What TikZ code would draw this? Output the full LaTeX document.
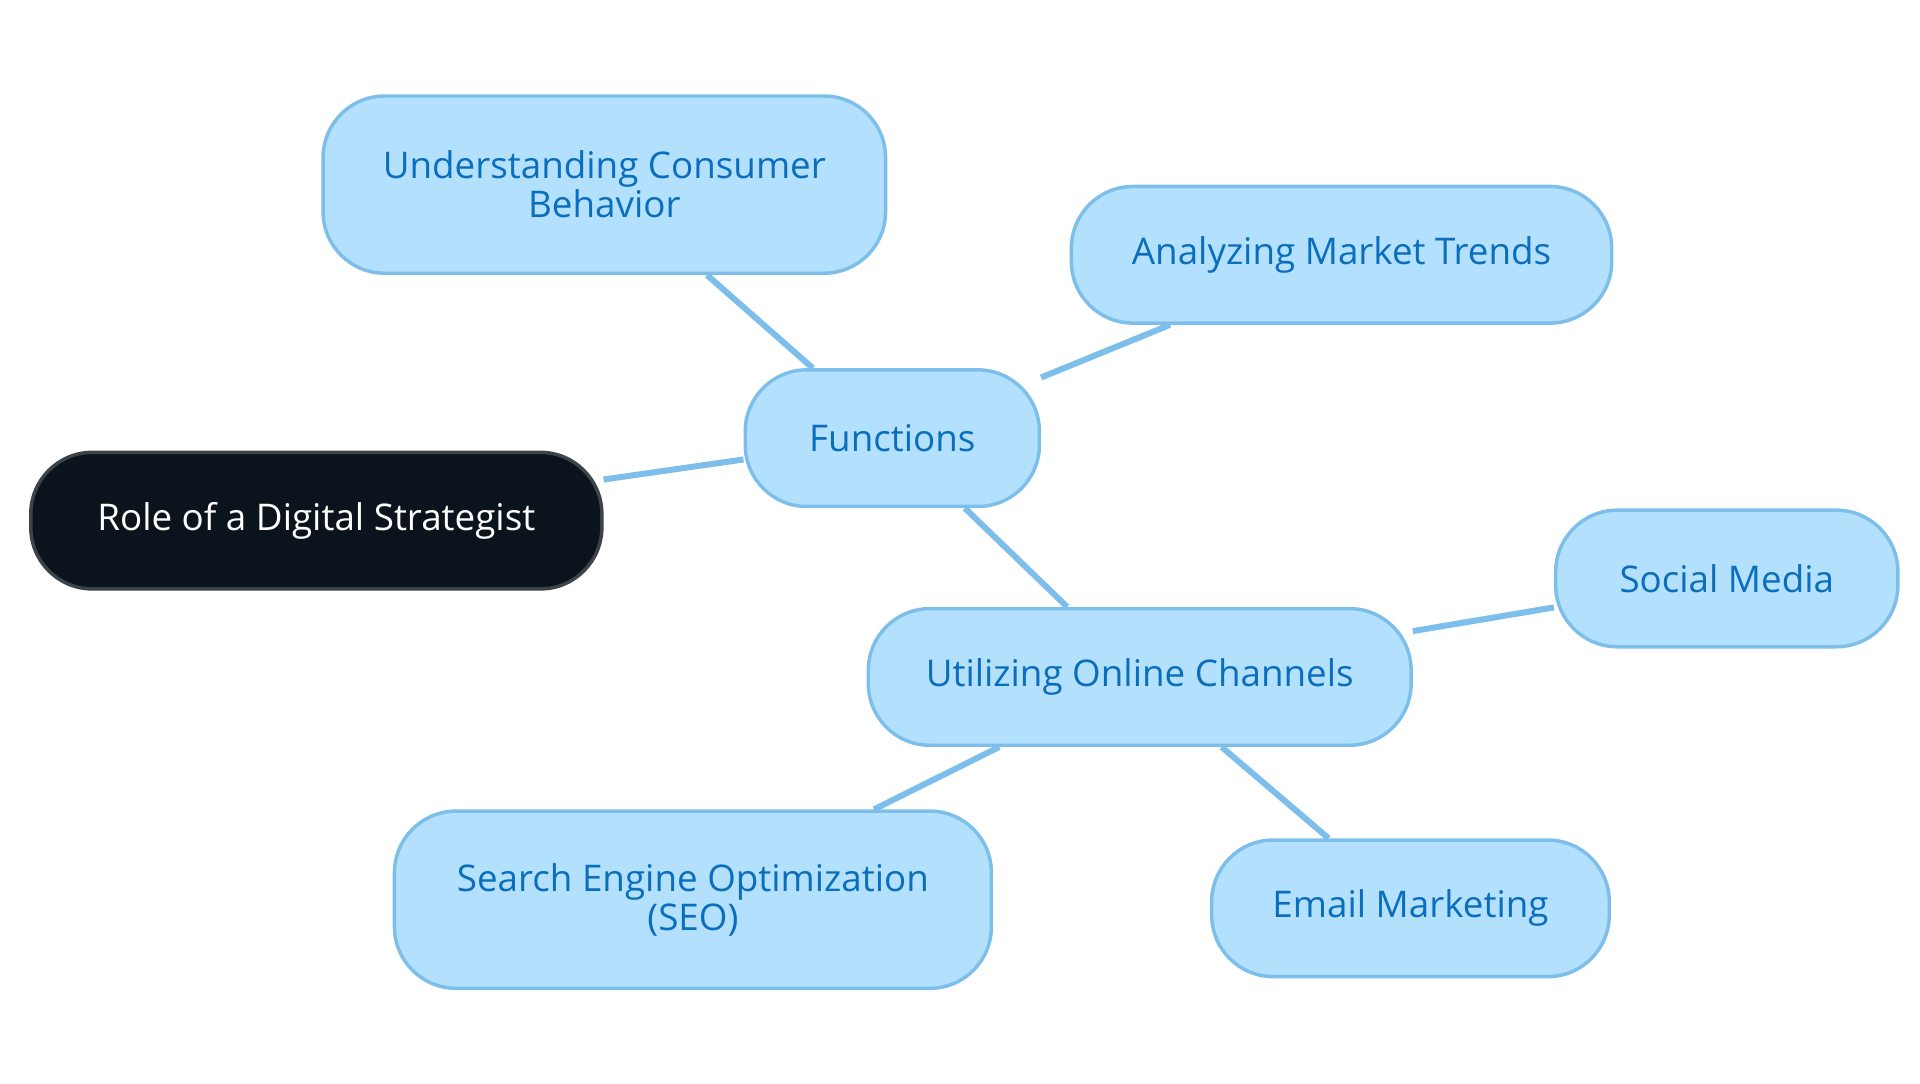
\documentclass[tikz,border=0pt]{standalone}
\usepackage{fontspec}
\setmainfont{Open Sans}
\usepackage{tikz}
\usetikzlibrary{positioning}
\definecolor{leaffill}{HTML}{B3E0FD}
\definecolor{leafdraw}{HTML}{7DBFEA}
\definecolor{leaftext}{HTML}{0A6EBD}
\definecolor{rootfill}{HTML}{0B141C}
\tikzstyle{leaf}=[draw=leafdraw,fill=leaffill,text=leaftext,rounded corners=0.5cm,
                line width=0.8pt,align=center,minimum height=1.11cm,inner sep=0,
                font=\fontsize{8.5}{9}\selectfont]
\tikzstyle{root}=[leaf,draw=rootfill!80!white,fill=rootfill,text=white]
\tikzstyle{link}=[draw=leafdraw,line width=1.4pt]

\begin{document}
\begin{tikzpicture}
\useasboundingbox (0,0) rectangle (15.6,-8.8);
\node[root,minimum width=4.64cm] (role) at (2.57,-4.23) {Role of a Digital Strategist};
\node[leaf,minimum width=2.39cm] (fun) at (7.25,-3.56) {Functions};
\node[leaf,minimum width=4.57cm,minimum height=1.44cm] (ucb) at (4.91,-1.50) {Understanding Consumer\\Behavior};
\node[leaf,minimum width=4.39cm] (amt) at (10.90,-2.07) {Analyzing Market Trends};
\node[leaf,minimum width=4.41cm] (uoc) at (9.26,-5.50) {Utilizing Online Channels};
\node[leaf,minimum width=2.78cm] (sm) at (14.03,-4.70) {Social Media};
\node[leaf,minimum width=4.85cm,minimum height=1.44cm] (seo) at (5.63,-7.31) {Search Engine Optimization\\(SEO)};
\node[leaf,minimum width=3.23cm] (em) at (11.46,-7.38) {Email Marketing};
\draw[link] (role) -- (fun);
\draw[link] (fun) -- (ucb);
\draw[link] (fun) -- (amt);
\draw[link] (fun) -- (uoc);
\draw[link] (uoc) -- (sm);
\draw[link] (uoc) -- (seo);
\draw[link] (uoc) -- (em);
\end{tikzpicture}
\end{document}
